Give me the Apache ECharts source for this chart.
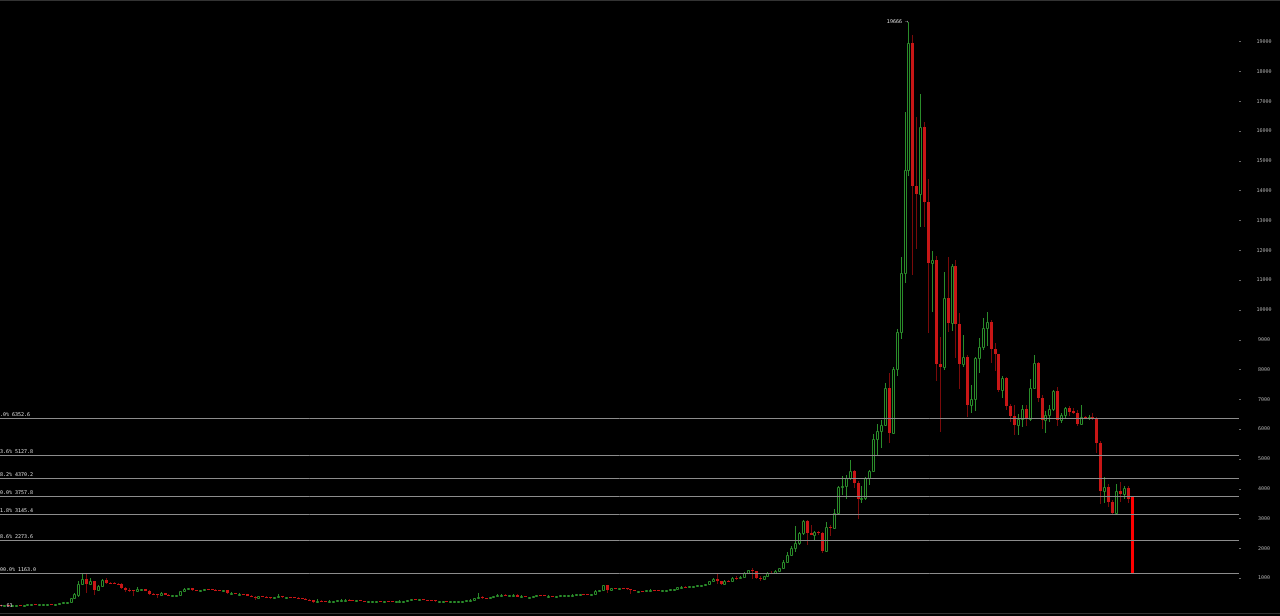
<!DOCTYPE html>
<html>
<head>
<meta charset="utf-8">
<script src="https://cdn.jsdelivr.net/npm/echarts@6/dist/echarts.min.js"></script>
<style>
html,body{margin:0;padding:0;background:#000;}
#chart{width:1280px;height:616px;}
</style>
</head>
<body>
<div id="chart"></div>
<script>
// Weekly candles, first week starting 2013-07-01
var startWeek = '2013-07-01';
var opens = [88,76,97,92,95,105,103,110,119,128,122,127,130,135,126,136,156,186,211,338,450,800,960,790,900,620,750,930,850,830,810,800,680,620,600,560,630,630,580,470,455,420,500,440,435,440,445,570,630,655,595,590,595,635,625,620,595,585,590,500,510,480,480,475,410,375,320,390,385,355,325,365,390,375,380,375,350,320,315,280,265,210,250,225,222,235,240,260,275,285,265,250,255,235,222,225,240,240,235,240,230,225,235,245,250,270,292,275,290,282,265,260,230,230,240,230,230,235,240,245,260,285,325,385,330,325,360,390,435,440,420,430,450,380,400,375,375,400,440,430,410,415,410,415,420,420,425,450,455,460,455,440,470,580,590,760,620,670,650,670,660,625,590,575,580,575,605,610,605,600,610,615,640,650,700,705,700,730,730,765,770,790,890,980,900,820,920,915,1020,1000,1050,1180,1270,1230,1020,960,1080,1190,1170,1250,1330,1560,1780,2010,2170,2510,2930,2510,2460,2560,2500,1900,2730,2700,3200,4050,4100,4350,4600,4210,3650,3690,4350,4600,5660,5950,6130,7370,5860,8010,9260,11250,14680,18950,14170,13890,16130,13630,11570,11660,8190,8080,10410,9570,11480,9530,8190,8410,6820,7000,8380,8770,9390,9610,8690,8510,7320,7730,6780,6440,6140,6330,6670,6330,7370,8210,7040,6310,6480,6670,7290,6310,6480,6700,6600,6540,6180,6400,6380,6420,6350,5550,3940,4070,3540,3180,3940,3830,4040,3740];
var highs = [98,99,100,97,107,108,112,124,132,131,131,136,141,140,137,160,215,215,340,505,900,1163,1150,1000,920,780,960,1000,880,870,850,830,700,660,620,710,650,640,590,490,480,540,510,460,445,450,580,670,675,660,600,600,650,640,630,625,600,595,595,530,520,490,485,480,440,390,400,405,390,365,370,460,395,385,380,375,355,335,320,300,270,310,270,245,265,250,265,295,295,290,270,260,260,240,235,245,245,245,245,242,232,235,255,250,280,315,300,295,298,285,270,268,235,245,245,235,238,242,250,265,290,335,500,395,340,375,400,465,465,455,440,465,455,420,400,380,405,445,440,440,420,418,418,422,425,430,455,470,465,462,458,475,590,600,780,770,680,680,680,680,665,630,600,585,585,610,625,612,610,615,620,645,650,720,740,745,750,745,770,780,795,910,1000,1150,910,930,930,1030,1070,1060,1200,1290,1330,1250,1060,1090,1210,1230,1260,1345,1600,1880,2090,2760,2560,2950,2960,2770,2580,2600,2560,2900,2800,3320,4100,4430,4460,4980,4640,4250,4100,4410,4640,5840,6180,6310,7560,7880,8070,9350,11790,16650,19666,19230,16490,17240,16300,14390,11990,11800,9080,11290,11770,11550,11680,9890,9160,8500,7480,8420,9050,9720,9920,9650,8880,8530,7770,7760,6850,6800,6500,6800,6800,7680,8490,8260,7150,6600,6800,7320,7400,6550,6750,6770,6720,6650,6800,6450,6470,6550,6400,5600,4390,4150,3620,4160,4240,4100,4100,3757.8];
var lows = [63,75,87,87,93,100,97,108,116,112,119,124,126,107,122,135,155,180,210,325,380,780,520,770,450,600,720,790,800,790,780,650,540,550,400,540,600,560,450,420,340,400,420,420,420,435,440,560,620,565,580,560,590,610,610,590,580,575,460,460,480,470,465,400,370,280,300,370,345,315,320,360,345,365,360,345,310,315,270,265,160,205,215,215,215,230,235,260,270,255,240,240,230,215,215,220,230,232,232,225,220,222,232,240,248,265,270,272,280,260,255,195,200,225,228,225,225,232,235,245,260,280,320,300,315,315,355,385,430,410,415,425,360,365,365,365,370,395,410,400,405,405,405,410,415,418,425,440,440,445,435,435,470,560,585,520,610,630,645,650,620,470,570,565,565,570,600,600,595,598,605,612,630,645,690,690,695,720,725,750,765,790,880,790,760,810,880,910,950,980,1040,1170,970,960,900,930,1070,1150,1160,1240,1320,1550,1730,1890,2120,2460,2120,2450,2270,2450,1830,1890,2400,2700,3180,3790,3650,4280,4030,2980,3530,3620,4140,4580,5100,5370,6090,5550,5850,7780,9030,10900,14500,11170,12040,12800,12800,9220,9940,7630,5920,8000,9270,9300,8380,7340,8100,6420,6540,6600,7900,8650,8800,8210,7950,7250,7050,6640,6250,5800,5800,6080,6100,6280,7350,6900,6000,5880,6250,6600,6100,6200,6350,6450,6500,6100,6150,6350,6300,6300,5200,3490,3515,3400,3120,3180,3570,3650,3520,1163];
var closes = [76,97,92,95,105,103,110,119,128,122,127,130,135,126,136,156,186,211,338,480,800,960,790,900,620,750,930,850,830,810,800,680,620,600,560,630,630,580,470,455,420,500,440,435,440,445,570,630,655,595,590,595,635,625,620,595,585,590,500,510,480,480,475,410,375,320,390,385,355,325,365,390,375,380,375,350,320,315,280,265,210,250,225,222,235,240,260,275,285,265,250,255,235,222,225,240,240,235,240,230,225,235,245,250,270,292,275,290,282,265,260,230,230,240,230,230,235,240,245,260,285,325,385,330,325,360,390,435,440,420,430,450,380,400,375,375,400,440,430,410,415,410,415,420,420,425,450,455,460,455,440,470,580,590,760,620,670,650,670,660,625,590,575,580,575,605,610,605,600,610,615,640,650,700,705,700,730,730,765,770,790,890,980,900,820,920,915,1020,1000,1050,1180,1270,1230,1020,960,1080,1190,1170,1250,1330,1560,1780,2010,2170,2510,2930,2510,2460,2560,2500,1900,2730,2700,3200,4050,4100,4350,4600,4210,3650,3690,4350,4600,5660,5950,6130,7370,5860,8010,9260,11250,14680,18950,14170,13890,16130,13630,11570,11660,8190,8080,10410,9570,11480,9530,8190,8410,6820,7000,8380,8770,9390,9610,8690,8510,7320,7730,6780,6440,6140,6330,6670,6330,7370,8210,7040,6310,6480,6670,7290,6310,6480,6700,6590,6540,6180,6400,6380,6420,6350,5550,3940,4070,3540,3180,3940,3830,4040,3650,1163];

// Fibonacci retracement levels
var fibPercents = ['0.0%','23.6%','38.2%','50.0%','61.8%','78.6%','100.0%'];
var fibValues = [6352.6, 5127.8, 4370.2, 3757.8, 3145.4, 2273.6, 1163.0];

// Price-axis tick labels
var yTicks = [1000,2000,3000,4000,5000,6000,7000,8000,9000,10000,11000,12000,13000,14000,15000,16000,17000,18000,19000];

// week labels (categories)
var weeks = [];
(function(){
  var d = new Date(startWeek + 'T00:00:00Z');
  for (var i = 0; i < opens.length; i++) {
    weeks.push(d.toISOString().slice(0,10));
    d = new Date(d.getTime() + 7*86400000);
  }
})();

var N = opens.length;
var data = [];
for (var i = 0; i < N; i++) data.push([i, opens[i], closes[i], lows[i], highs[i], weeks[i]]);

var maxIdx = 0, minIdx = 0;
for (var k = 0; k < N; k++) {
  if (highs[k] > highs[maxIdx]) maxIdx = k;
  if (lows[k] < lows[minIdx]) minIdx = k;
}

var GREEN = '#2a8c2a', RED = '#c81616', DARKRED = '#7a0a0a', LASTRED = '#ff0000';
var FONT = 'DejaVu Sans Mono';

function renderCandle(params, api) {
  var i = api.value(0), o = api.value(1), c = api.value(2), l = api.value(3), h = api.value(4);
  var pH = api.coord([i, h]), pL = api.coord([i, l]), pO = api.coord([i, o]), pC = api.coord([i, c]);
  var col = Math.floor(pH[0]);
  var cx = col + 0.5;
  var top = Math.round(Math.min(pO[1], pC[1]));
  var bot = Math.round(Math.max(pO[1], pC[1]));
  var yH = Math.round(pH[1]), yL = Math.round(pL[1]);
  var children = [];
  if (params.dataIndex === N - 1) {
    children.push({type:'rect', shape:{x: col - 1, y: top, width: 3, height: Math.max(bot - top, 1)}, style:{fill: LASTRED}});
    return {type:'group', children: children};
  }
  var up = c >= o;
  children.push({type:'line', shape:{x1: cx, y1: yH, x2: cx, y2: yL}, style:{stroke: up ? GREEN : DARKRED, lineWidth: 1}});
  if (up) {
    children.push({type:'rect', shape:{x: col - 0.5, y: top + 0.5, width: 2, height: Math.max(bot - top, 1)}, style:{fill: '#000', stroke: GREEN, lineWidth: 1}});
  } else {
    children.push({type:'rect', shape:{x: col - 1, y: top, width: 3, height: Math.max(bot - top, 1)}, style:{fill: RED}});
  }
  return {type:'group', children: children};
}

var chart = echarts.init(document.getElementById('chart'), null, {renderer: 'canvas'});
chart.setOption({
  backgroundColor: '#000',
  animation: false,
  grid: {left: 0, right: 41, top: 0, bottom: 8},
  xAxis: {type: 'value', min: -0.15, max: 316.3, show: false},
  yAxis: {
    type: 'value', position: 'right', min: 0, max: 20400, interval: 1000,
    axisLine: {show: false, onZero: false},
    splitLine: {show: false},
    axisTick: {show: true, length: 2, lineStyle: {color: '#666'}, customValues: yTicks},
    axisLabel: {customValues: yTicks, color: '#aaa', fontSize: 5, fontFamily: FONT, align: 'center', margin: 25,
      formatter: function (v) { return String(v); }}
  },
  graphic: [
    {type: 'line', shape: {x1: 0, y1: 0.5, x2: 1280, y2: 0.5}, style: {stroke: '#333', lineWidth: 1}, silent: true},
    {type: 'line', shape: {x1: 0, y1: 613.5, x2: 1280, y2: 613.5}, style: {stroke: '#333', lineWidth: 1}, silent: true}
  ],
  series: [{
    type: 'custom',
    renderItem: renderCandle,
    encode: {x: 0, y: [1, 2, 3, 4]},
    data: data,
    clip: false,
    markLine: {
      silent: true,
      symbol: ['none', 'none'],
      lineStyle: {color: '#8c8c8c', width: 1, type: 'solid'},
      label: {position: 'insideStartTop', color: '#ddd', fontSize: 5, fontFamily: FONT, distance: [-3, 1]},
      data: fibValues.map(function (v, k) {
        return {yAxis: v, label: {formatter: fibPercents[k] + ' ' + v.toFixed(1)}};
      })
    },
    markPoint: {
      silent: true,
      symbol: 'circle', symbolSize: 0,
      data: [
        {coord: [maxIdx, highs[maxIdx]], value: highs[maxIdx],
         label: {show: true, position: 'left', distance: 1, formatter: highs[maxIdx] + ' \u2192', color: '#ddd', fontSize: 5, fontFamily: FONT}},
        {coord: [minIdx, lows[minIdx]], value: lows[minIdx],
         label: {show: true, position: 'right', distance: 0, formatter: '\u2190 ' + lows[minIdx], color: '#ddd', fontSize: 5, fontFamily: FONT}}
      ]
    }
  }]
});
</script>
</body>
</html>
